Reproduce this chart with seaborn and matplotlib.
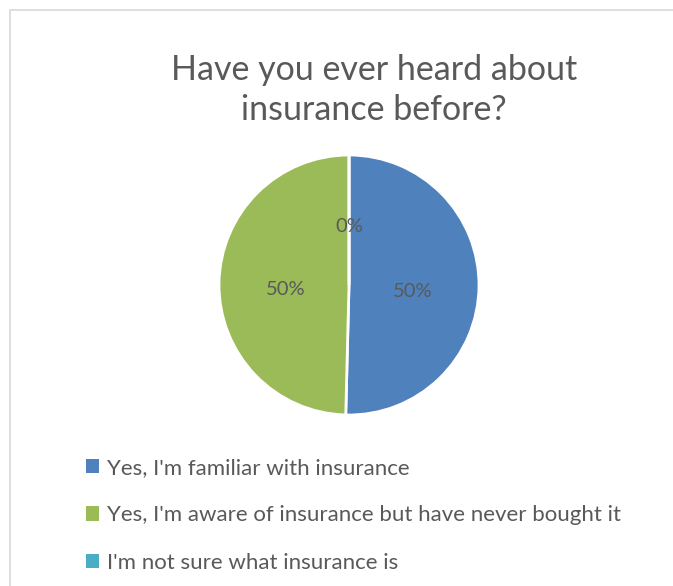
import matplotlib
matplotlib.use("Agg")
import matplotlib.pyplot as plt
from matplotlib.patches import Rectangle, Patch
import seaborn as sns

# Survey answers and their shares of respondents (%)
answers = [
    "Yes, I'm familiar with insurance",
    "Yes, I'm aware of insurance but have never bought it",
    "I'm not sure what insurance is",
]
shares = [50.4, 49.6, 0.0]
colors = ["#4F81BD", "#9BBB59", "#4BACC6"]
title = "Have you ever heard about\ninsurance before?"

sns.set_theme(style="white")
plt.rcParams["font.family"] = ["Lato", "DejaVu Sans"]
text_color = "#595959"

W, H = 673, 586
fig = plt.figure(figsize=(W / 100, H / 100), dpi=100)
fig.patch.set_facecolor("white")

# light chart-area frame
fig.patches.append(Rectangle((10 / W, -0.1), 1.2, 1 - 10 / H + 0.1,
                             transform=fig.transFigure, fill=False,
                             edgecolor="#D9D9D9", linewidth=1.2))

# pie axes
cx, cy, r = 349, 285, 130
ax = fig.add_axes([(cx - r) / W, (H - cy - r) / H, 2 * r / W, 2 * r / H])
wedges, texts, autotexts = ax.pie(
    shares, colors=colors, startangle=90, counterclock=False,
    autopct=lambda p: f"{p:.0f}%", pctdistance=0.49,
    wedgeprops=dict(edgecolor="white", linewidth=2),
    textprops=dict(color=text_color, fontsize=14.5),
)
for t in autotexts:
    x, y = t.get_position()
    t.set_position((x, y - 0.04))
ax.set_xlim(-1.0, 1.0)
ax.set_ylim(-1.0, 1.0)
ax.set_aspect("equal")
ax.axis("off")

fig.text(374 / W, 1 - 90 / H, title, ha="center", va="center",
         fontsize=24.5, color=text_color, linespacing=1.3)

handles = [Patch(facecolor=c, edgecolor="none") for c in colors]
fig.legend(handles, answers, loc="upper left",
           bbox_to_anchor=(66 / W, 1 - 438 / H), frameon=False,
           fontsize=16, labelcolor=text_color, handlelength=0.6,
           handleheight=0.6, handletextpad=0.35, labelspacing=1.23)

fig.savefig("out.png", dpi=100)
